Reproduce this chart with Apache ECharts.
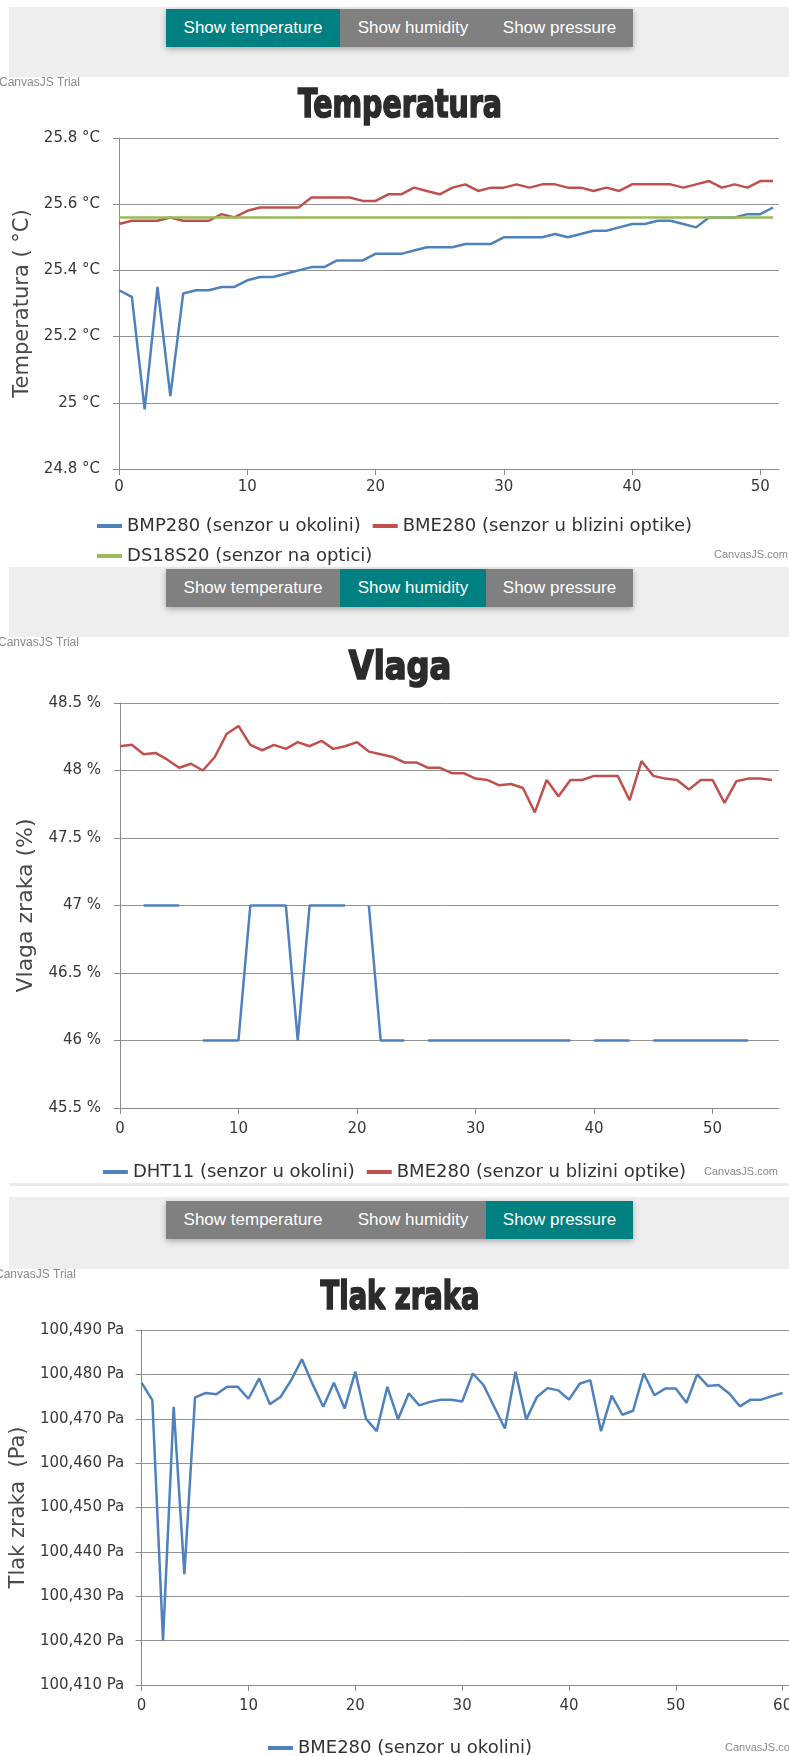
<!DOCTYPE html>
<html lang="hr">
<head>
<meta charset="UTF-8">
<title>Temperatura, vlaga i tlak zraka</title>
<script src="https://cdn.jsdelivr.net/npm/echarts@6/dist/echarts.min.js"></script>
<style>
    body {
        margin: 0;
        width: 789px;
        height: 1756px;
        overflow: hidden;
        position: relative;
        background: #fff;
        font-family: 'Liberation Sans', Arial, sans-serif;
    }
    .band {
        position: absolute;
        left: 9px;
        width: 780px;
        background: #eeeeee;
    }
    .btns {
        position: absolute;
        left: 157px;
        display: flex;
        box-shadow: 0 2px 6px rgba(0, 0, 0, 0.3);
    }
    .btns span {
        display: block;
        height: 38px;
        line-height: 38px;
        text-align: center;
        color: #fff;
        background: #808080;
        font-size: 17px;
        white-space: nowrap;
    }
    .btns span.active { background: #008080; }
    .b1 { width: 174px; }
    .b2 { width: 146px; }
    .b3 { width: 147px; }
    .chart { position: absolute; left: 0; }
    .sep {
        position: absolute;
        left: 9px;
        width: 780px;
        top: 1183px;
        height: 3px;
        background: #ebebeb;
    }
</style>
</head>
<body>
    <div class="band" style="top:7px;height:70px">
        <div class="btns" style="top:2px">
            <span class="b1 active">Show temperature</span><span class="b2">Show humidity</span><span class="b3">Show pressure</span>
        </div>
    </div>
    <div class="chart" id="chartTemp" style="top:77px;width:789px;height:490px"></div>

    <div class="band" style="top:567px;height:70px">
        <div class="btns" style="top:2px">
            <span class="b1">Show temperature</span><span class="b2 active">Show humidity</span><span class="b3">Show pressure</span>
        </div>
    </div>
    <div class="chart" id="chartHum" style="top:637px;width:789px;height:546px"></div>
    <div class="sep"></div>

    <div class="band" style="top:1197px;height:72px">
        <div class="btns" style="top:4px">
            <span class="b1">Show temperature</span><span class="b2">Show humidity</span><span class="b3 active">Show pressure</span>
        </div>
    </div>
    <div class="chart" id="chartPres" style="top:1269px;width:800px;height:487px"></div>

<script>
    // --- podaci (očitani s grafa) ---
    const tempTicksX = [0, 10, 20, 30, 40, 50];
    const tempBMP280 = [
        25.34, 25.32, 24.98, 25.35, 25.02, 25.33, 25.34, 25.34, 25.35, 25.35,
        25.37, 25.38, 25.38, 25.39, 25.40, 25.41, 25.41, 25.43, 25.43, 25.43,
        25.45, 25.45, 25.45, 25.46, 25.47, 25.47, 25.47, 25.48, 25.48, 25.48,
        25.50, 25.50, 25.50, 25.50, 25.51, 25.50, 25.51, 25.52, 25.52, 25.53,
        25.54, 25.54, 25.55, 25.55, 25.54, 25.53, 25.56, 25.56, 25.56, 25.57,
        25.57, 25.59
    ];
    const tempBME280 = [
        25.54, 25.55, 25.55, 25.55, 25.56, 25.55, 25.55, 25.55, 25.57, 25.56,
        25.58, 25.59, 25.59, 25.59, 25.59, 25.62, 25.62, 25.62, 25.62, 25.61,
        25.61, 25.63, 25.63, 25.65, 25.64, 25.63, 25.65, 25.66, 25.64, 25.65,
        25.65, 25.66, 25.65, 25.66, 25.66, 25.65, 25.65, 25.64, 25.65, 25.64,
        25.66, 25.66, 25.66, 25.66, 25.65, 25.66, 25.67, 25.65, 25.66, 25.65,
        25.67, 25.67
    ];
    const tempDS18S20 = [
        25.56, 25.56, 25.56, 25.56, 25.56, 25.56, 25.56, 25.56, 25.56, 25.56,
        25.56, 25.56, 25.56, 25.56, 25.56, 25.56, 25.56, 25.56, 25.56, 25.56,
        25.56, 25.56, 25.56, 25.56, 25.56, 25.56, 25.56, 25.56, 25.56, 25.56,
        25.56, 25.56, 25.56, 25.56, 25.56, 25.56, 25.56, 25.56, 25.56, 25.56,
        25.56, 25.56, 25.56, 25.56, 25.56, 25.56, 25.56, 25.56, 25.56, 25.56,
        25.56, 25.56
    ];

    const humTicksX = [0, 10, 20, 30, 40, 50];
    const humDHT11 = [
        null, null, 47, 47, 47, 47, null, 46, 46, 46,
        46, 47, 47, 47, 47, 46, 47, 47, 47, 47,
        null, 47, 46, 46, 46, null, 46, 46, 46, 46,
        46, 46, 46, 46, 46, 46, 46, 46, 46, null,
        46, 46, 46, 46, null, 46, 46, 46, 46, 46,
        46, 46, 46, 46, null, null
    ];
    const humBME280 = [
        48.18, 48.19, 48.12, 48.13, 48.08, 48.02, 48.05, 48.00, 48.10, 48.27,
        48.33, 48.19, 48.15, 48.19, 48.16, 48.21, 48.18, 48.22, 48.16, 48.18,
        48.21, 48.14, 48.12, 48.10, 48.06, 48.06, 48.02, 48.02, 47.98, 47.98,
        47.94, 47.93, 47.89, 47.90, 47.87, 47.69, 47.93, 47.81, 47.93, 47.93,
        47.96, 47.96, 47.96, 47.78, 48.07, 47.96, 47.94, 47.93, 47.86, 47.93,
        47.93, 47.76, 47.92, 47.94, 47.94, 47.93
    ];

    const presTicksX = [0, 10, 20, 30, 40, 50, 60];
    const presBME280 = [
        100478.1, 100474.2, 100420.0, 100472.7, 100435.0, 100474.8, 100475.8, 100475.5, 100477.2, 100477.2,
        100474.5, 100479.1, 100473.3, 100474.9, 100478.7, 100483.4, 100477.8, 100472.7, 100478.1, 100472.3,
        100480.6, 100470.0, 100467.2, 100477.2, 100469.9, 100475.7, 100473.0, 100473.8, 100474.3, 100474.3,
        100473.9, 100480.2, 100477.6, 100472.7, 100467.8, 100480.6, 100469.8, 100474.9, 100476.9, 100476.4,
        100474.3, 100477.9, 100478.7, 100467.2, 100475.2, 100470.9, 100471.8, 100480.2, 100475.3, 100476.8,
        100476.8, 100473.6, 100480.0, 100477.4, 100477.6, 100475.7, 100472.8, 100474.3, 100474.3, 100475.1,
        100475.8
    ];

    const BLUE = '#4f81bc', RED = '#c0504e', GREEN = '#9bbb58';
    const FONT = "'DejaVu Sans', Verdana, sans-serif";
    const TITLE_FONT = "'DejaVu Sans Condensed', 'Liberation Sans Narrow', sans-serif";
    const AXIS_COLOR = '#8a8a8a';
    const GRID_COLOR = '#939393';

    function buildOption(c) {
        return {
            animation: false,
            legend: {
                top: c.legendTop,
                left: 'center',
                width: 620,
                icon: 'rect',
                itemWidth: 25,
                itemHeight: 4,
                itemGap: 12,
                padding: 0,
                textStyle: { fontFamily: FONT, fontSize: 18, color: '#333', lineHeight: 13 }
            },
            graphic: [
                // naslov: uski, masni font (sažet po širini)
                {
                    type: 'text', x: 400, y: c.titleTop, scaleX: c.titleScale,
                    style: {
                        text: c.title, align: 'center', verticalAlign: 'top',
                        font: 'bold 39px ' + TITLE_FONT, fill: '#2b2b2b',
                        stroke: '#2b2b2b', lineWidth: 1.6
                    }
                },
                { type: 'text', x: c.trialX, y: 0, style: { text: 'CanvasJS Trial', font: '12px "Liberation Sans", Arial', fill: '#8a8a8a' } },
                { type: 'text', x: c.comX, y: c.comY, style: { text: 'CanvasJS.com', font: '11px "Liberation Sans", Arial', fill: '#8a8a8a' } }
            ],
            grid: { left: c.grid[0], top: c.grid[1], width: c.grid[2], height: c.grid[3] },
            xAxis: {
                type: 'value',
                min: c.xMin,
                max: c.xMax,
                axisLine: { lineStyle: { color: AXIS_COLOR } },
                axisTick: { show: true, length: 6, customValues: c.xTicks, lineStyle: { color: AXIS_COLOR } },
                axisLabel: { customValues: c.xTicks, margin: c.xMargin, fontFamily: FONT, fontSize: 15, color: '#383838' },
                splitLine: { show: false }
            },
            yAxis: {
                type: 'value',
                min: c.yMin,
                max: c.yMax,
                interval: c.yInterval,
                name: c.yName,
                nameLocation: 'middle',
                nameGap: c.nameGap,
                nameTextStyle: { fontFamily: FONT, fontSize: c.nameSize, color: '#4a4a4a' },
                axisLine: { show: true, lineStyle: { color: AXIS_COLOR } },
                axisTick: { show: true, length: 6, lineStyle: { color: AXIS_COLOR } },
                axisLabel: { formatter: c.yFormat, margin: 13, fontFamily: FONT, fontSize: 15, color: '#383838' },
                splitLine: { lineStyle: { color: GRID_COLOR } }
            },
            series: c.series.map(s => ({
                type: 'line',
                name: s.name,
                data: s.values.map((v, i) => [i, v === null ? '-' : v]),
                showSymbol: false,
                connectNulls: false,
                lineStyle: { width: 2.5, color: s.color },
                itemStyle: { color: s.color }
            }))
        };
    }

    echarts.init(document.getElementById('chartTemp')).setOption(buildOption({
        title: 'Temperatura', titleTop: 10, titleScale: 0.81,
        grid: [113, 61, 666, 331],
        xMin: -0.47, xMax: 51.46, xTicks: tempTicksX, xMargin: 11,
        yMin: 24.8, yMax: 25.8, yInterval: 0.2,
        yName: 'Temperatura ( °C)', nameGap: 77, nameSize: 21,
        yFormat: v => v + ' °C',
        legendTop: 440, trialX: -1, comX: 714, comY: 472,
        series: [
            { name: 'BMP280 (senzor u okolini)', values: tempBMP280, color: BLUE },
            { name: 'BME280 (senzor u blizini optike)', values: tempBME280, color: RED },
            { name: 'DS18S20 (senzor na optici)', values: tempDS18S20, color: GREEN }
        ]
    }));

    echarts.init(document.getElementById('chartHum')).setOption(buildOption({
        title: 'Vlaga', titleTop: 12, titleScale: 0.92,
        grid: [114, 66, 665, 405],
        xMin: -0.5, xMax: 55.6, xTicks: humTicksX, xMargin: 14,
        yMin: 45.5, yMax: 48.5, yInterval: 0.5,
        yName: 'Vlaga zraka (%)', nameGap: 77, nameSize: 22,
        yFormat: v => v + ' %',
        legendTop: 526, trialX: -2, comX: 704, comY: 529,
        series: [
            { name: 'DHT11 (senzor u okolini)', values: humDHT11, color: BLUE },
            { name: 'BME280 (senzor u blizini optike)', values: humBME280, color: RED }
        ]
    }));

    echarts.init(document.getElementById('chartPres')).setOption(buildOption({
        title: 'Tlak zraka', titleTop: 10, titleScale: 0.78,
        grid: [135, 61, 655, 355],
        xMin: -0.41, xMax: 60.69, xTicks: presTicksX, xMargin: 14,
        yMin: 100410, yMax: 100490, yInterval: 10,
        yName: 'Tlak zraka  (Pa)', nameGap: 102, nameSize: 21,
        yFormat: v => v.toLocaleString('en-US') + ' Pa',
        legendTop: 470, trialX: -5, comX: 725, comY: 473,
        series: [
            { name: 'BME280 (senzor u okolini)', values: presBME280, color: BLUE }
        ]
    }));
</script>
</body>
</html>
